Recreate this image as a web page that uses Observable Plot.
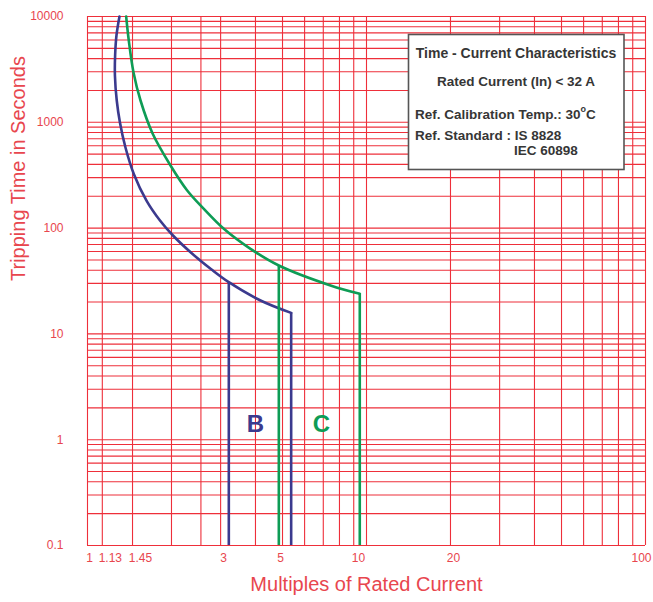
<!DOCTYPE html>
<html>
<head>
<meta charset="utf-8">
<script src="https://cdn.jsdelivr.net/npm/d3@7"></script>
<script src="https://cdn.jsdelivr.net/npm/@observablehq/plot@0.6"></script>
<style>
  html, body { margin: 0; padding: 0; background: #fff; }
  svg { display: block; }
</style>
</head>
<body>
<div id="chart"></div>
<script>
// ---- data ----
const xGrid = [1, 1.13, 1.45, 2, 2.55, 3, 4, 5, 6, 7, 8, 9, 10, 20, 30, 40, 50, 60, 70, 80, 90, 100];
const yGrid = [0.1, 0.2, 0.3, 0.4, 0.5, 0.6, 0.7, 0.8, 0.9,
               1, 2, 3, 4, 5, 6, 7, 8, 9,
               10, 20, 30, 40, 50, 60, 70, 80, 90,
               100, 200, 300, 400, 500, 600, 700, 800, 900,
               1000, 2000, 3000, 4000, 5000, 6000, 7000, 8000, 9000, 10000];
const xTicks = [1, 1.13, 1.45, 3, 5, 10, 20, 100];
const yTicks = [0.1, 1, 10, 100, 1000, 10000];

// B curve
const bX = [1.302, 1.270, 1.256, 1.254, 1.273, 1.307, 1.368, 1.468, 1.627, 1.819, 2.025, 2.369, 2.783, 3.21, 4.17, 5.37];
const bY = [10000, 6613, 4280, 2769, 1607, 996, 578, 321, 182, 118, 85.1, 57.5, 40.6, 30.8, 20.7, 15.8];
const bDropX = [3.21, 5.37];
const bDropTop = [30.8, 15.8];

// C curve
const cX = [1.376, 1.406, 1.462, 1.549, 1.711, 1.984, 2.277, 2.612, 3.08, 3.839, 4.85, 7.43, 9.46];
const cY = [10000, 5933, 2956, 1607, 784, 391, 227, 152, 98.5, 63.7, 44.3, 28.7, 23.9];
const cDropX = [4.85, 9.46];
const cDropTop = [44.3, 23.9];

const curveLabels = ["B", "C"];
const curveLabelX = [4.0, 6.9];
const curveLabelY = [1.39, 1.39];

const yMin = 0.1;

// ---- styles ----
const gridRed = "#ee2f3a";
const textRed = "#e8464e";
const blue = "#3b3a8e";
const green = "#0e9c55";
const font = "'Liberation Sans', Arial, Helvetica, sans-serif";
const xTickDx = [2, 8, 8, 3, -2, -8, 3, -4]; // label nudges as printed in the original

const bPts = bX.map((x, i) => ({x, y: bY[i]}));
const cPts = cX.map((x, i) => ({x, y: cY[i]}));
const bDrops = bDropX.map((x, i) => ({x, top: bDropTop[i], bottom: yMin}));
const cDrops = cDropX.map((x, i) => ({x, top: cDropTop[i], bottom: yMin}));
const lbls = curveLabels.map((t, i) => ({t, x: curveLabelX[i], y: curveLabelY[i], c: i === 0 ? blue : green}));

const xTickMarks = xTicks.map((v, i) =>
  Plot.text([v], {x: d => d, frameAnchor: "bottom", dy: 16, dx: xTickDx[i],
                  text: d => String(d), fontSize: 12, fill: textRed}));

const chart = Plot.plot({
  width: 653,
  height: 602,
  marginLeft: 87,
  marginRight: 8,
  marginTop: 16,
  marginBottom: 57,
  style: {fontFamily: font, background: "#fff", overflow: "visible"},
  x: {type: "log", domain: [1, 100], axis: null},
  y: {type: "log", domain: [0.1, 10000], axis: null},
  marks: [
    Plot.ruleX(xGrid, {stroke: gridRed, strokeWidth: 1.1}),
    Plot.ruleY(yGrid, {stroke: gridRed, strokeWidth: 1.1}),
    Plot.line(bPts, {x: "x", y: "y", curve: "catmull-rom", stroke: blue, strokeWidth: 2.6}),
    Plot.ruleX(bDrops, {x: "x", y1: "top", y2: "bottom", stroke: blue, strokeWidth: 2.6}),
    Plot.line(cPts, {x: "x", y: "y", curve: "catmull-rom", stroke: green, strokeWidth: 2.6}),
    Plot.ruleX(cDrops, {x: "x", y1: "top", y2: "bottom", stroke: green, strokeWidth: 2.6}),
    Plot.text(lbls, {x: "x", y: "y", text: "t", fill: "c", fontSize: 24, fontWeight: "bold"}),
    ...xTickMarks,
    Plot.axisY({ticks: yTicks, tickFormat: d => String(d), tickSize: 0, tickPadding: 24,
                fontSize: 12, color: textRed, label: null}),
    Plot.text(["Multiples of Rated Current"], {frameAnchor: "bottom", dy: 45, fontSize: 20, fill: textRed}),
    Plot.text(["Tripping Time in Seconds"], {frameAnchor: "left", dx: -69, rotate: -90, fontSize: 20, fill: textRed})
  ]
});

document.getElementById("chart").appendChild(chart);

// ---- info box ----
const svg = d3.select(chart);
const g = svg.append("g").attr("font-family", font).attr("font-weight", "bold")
  .attr("fill", "#363636").attr("text-anchor", "start");
g.append("rect")
  .attr("x", 408.5).attr("y", 34.5).attr("width", 215.5).attr("height", 135)
  .attr("fill", "#fff").attr("stroke", "#555").attr("stroke-width", 1.6);
g.append("text").attr("x", 516).attr("y", 54).attr("text-anchor", "middle")
  .attr("dominant-baseline", "middle").attr("font-size", 14).text("Time - Current Characteristics");
g.append("text").attr("x", 516).attr("y", 82).attr("text-anchor", "middle")
  .attr("dominant-baseline", "middle").attr("font-size", 13.5).text("Rated Current (In) < 32 A");
const t3 = g.append("text").attr("x", 415).attr("y", 115).attr("text-anchor", "start")
  .attr("dominant-baseline", "middle").attr("font-size", 13.5);
t3.append("tspan").text("Ref. Calibration Temp.: 30");
t3.append("tspan").attr("font-size", 9).attr("dy", -5).text("o");
t3.append("tspan").attr("dy", 5).text("C");
g.append("text").attr("x", 415).attr("y", 136).attr("text-anchor", "start").attr("dominant-baseline", "middle")
  .attr("font-size", 13.5).text("Ref. Standard : IS 8828");
g.append("text").attr("x", 514).attr("y", 151).attr("text-anchor", "start").attr("dominant-baseline", "middle")
  .attr("font-size", 13.5).text("IEC 60898");
</script>
</body>
</html>
